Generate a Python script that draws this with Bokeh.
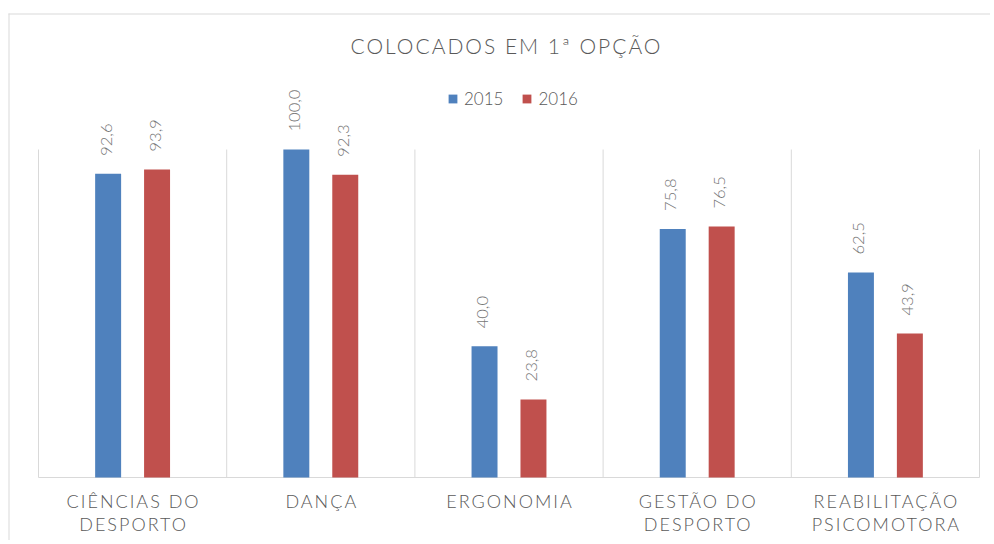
import math
from bokeh.plotting import figure
from bokeh.layouts import column
from bokeh.models import ColumnDataSource, Legend, LegendItem, Label, Range1d
from bokeh.embed import file_html
from bokeh.resources import INLINE
from bokeh.core.properties import value

categories = ["CIÊNCIAS DO\nDESPORTO", "DANÇA", "ERGONOMIA", "GESTÃO DO\nDESPORTO", "REABILITAÇÃO\nPSICOMOTORA"]
years = ["2015", "2016"]
v2015 = [92.6, 100.0, 40.0, 75.8, 62.5]
v2016 = [93.9, 92.3, 23.8, 76.5, 43.9]
title_text = "COLOCADOS EM 1ª OPÇÃO"

colors = ["#4F81BD", "#C0504D"]
FONT = "Lato Light, Lato"
GRID = "#d9d9d9"
offset = 0.13
bar_w = 0.138
n = len(categories)
LS = 2  # letter spacing (px) for title and category labels

# layout: page pixels
W, H = 990, 540
X0, CW = 38.0, 188.2     # page x of category 0, pixels per category
Y0, PY = 477.0, 3.28     # page y of value 0, pixels per unit


def dx(px):
    return (px - X0) / CW


def dy(py):
    return (Y0 - py) / PY


def make_fig():
    f = figure(width=W, height=H, output_backend="svg", toolbar_location=None,
               x_range=Range1d(dx(0), dx(W)), y_range=Range1d(dy(H), dy(0)),
               x_axis_location=None, y_axis_location=None,
               min_border_left=0, min_border_right=0, min_border_top=0, min_border_bottom=0)
    f.outline_line_color = None
    f.xgrid.grid_line_color = None
    f.ygrid.grid_line_color = None
    return f


# ---------- main figure: border, grid, bars, values, legend ----------
p = make_fig()

# outer chart border (top and left)
p.segment(x0=[dx(8), dx(8.5)], y0=[dy(13.5), dy(13)], x1=[dx(W), dx(8.5)], y1=[dy(13.5), dy(H)],
          line_color=GRID, line_width=1)

# category separators and baseline
bounds = list(range(n + 1))
p.segment(x0=bounds, y0=[0] * len(bounds), x1=bounds, y1=[100] * len(bounds),
          line_color=GRID, line_width=1)
p.segment(x0=[0], y0=[0], x1=[n], y1=[0], line_color=GRID, line_width=1)

centers = [i + 0.5 for i in range(n)]
renderers = []
for k, (vals, col) in enumerate(zip([v2015, v2016], colors)):
    xs = [c + (-offset if k == 0 else offset) for c in centers]
    src = ColumnDataSource(dict(x=xs, top=vals, lab=[f"{v:.1f}".replace(".", ",") for v in vals]))
    r = p.vbar(x="x", top="top", width=bar_w, bottom=0, source=src, fill_color=col, line_color=None)
    renderers.append(r)
    p.text(x="x", y="top", text="lab", source=src, angle=math.pi / 2, text_align="left",
           text_baseline="middle", y_offset=-18, x_offset=-2, text_font=value(FONT),
           text_font_size="16.5px", text_color="#767676")

legend = Legend(items=[LegendItem(label=y, renderers=[r]) for y, r in zip(years, renderers)],
                orientation="horizontal", location=(447, H - 108.5))
legend.padding = 0
legend.margin = 0
legend.spacing = 18
legend.glyph_width = 11
legend.glyph_height = 11
legend.label_height = 20
legend.label_standoff = 6
legend.label_text_font = FONT
legend.label_text_font_size = "17px"
legend.label_text_color = "#595959"
legend.border_line_color = None
legend.background_fill_alpha = 0
p.add_layout(legend)

# ---------- overlay figure: letter-spaced title and category labels ----------
q = make_fig()
q.background_fill_alpha = 0
q.border_fill_alpha = 0
q.styles = {"position": "absolute", "top": "0px", "left": "0px",
            "letter-spacing": f"{LS}px", "pointer-events": "none"}

lines = [c.split("\n") for c in categories]
for row, yoff in ((0, 23), (1, 46)):
    txt = [l[row] if len(l) > row else "" for l in lines]
    src = ColumnDataSource(dict(x=centers, y=[0] * n, t=txt,
                                xo=[-(len(t) - 1) * LS / 2 if t else 0 for t in txt]))
    q.text(x="x", y="y", text="t", source=src, x_offset="xo", y_offset=yoff,
           text_align="center", text_baseline="middle", text_font=value(FONT),
           text_font_size="18px", text_color="#595959")

q.add_layout(Label(x=n / 2, y=dy(45), text=title_text, text_align="center",
                   text_baseline="middle", x_offset=-3.5 - (len(title_text) - 1) * LS / 2,
                   text_font=FONT, text_font_size="21px", text_color="#595959"))

layout = column(p, q)
open("out.html", "w").write(file_html(layout, INLINE))
